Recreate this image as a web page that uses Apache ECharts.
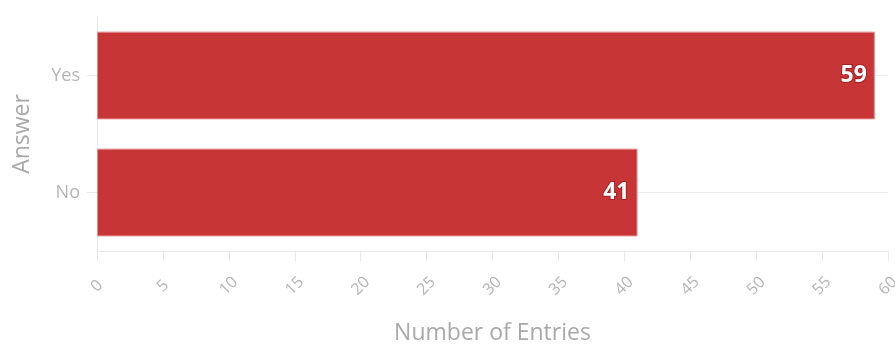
<!DOCTYPE html>
<html>
<head>
<meta charset="utf-8">
<script src="https://cdn.jsdelivr.net/npm/echarts@6/dist/echarts.min.js"></script>
<style>
  html, body { margin: 0; padding: 0; background: #fff; }
  #chart { width: 895px; height: 347px; }
</style>
</head>
<body>
<div id="chart"></div>
<script>
// Survey answers and their counts
const answers = ['No', 'Yes'];
const entries = [41, 59];

const chart = echarts.init(document.getElementById('chart'));
const fontFamily = '"Open Sans", "Noto Sans", sans-serif';

chart.setOption({
  animation: false,
  textStyle: { fontFamily: fontFamily },
  grid: { left: 97, right: 7, top: 17, bottom: 96, containLabel: false, outerBoundsMode: 'none' },
  xAxis: {
    type: 'value',
    min: 0,
    max: 60,
    interval: 5,
    name: 'Number of Entries',
    nameLocation: 'middle',
    nameGap: 71,
    nameMoveOverlap: false,
    nameTextStyle: { color: '#a9a9a9', fontSize: 23, fontFamily: fontFamily },
    axisLine: { show: true, lineStyle: { color: '#e8e8e8', width: 1 } },
    axisTick: { show: true, length: 10, lineStyle: { color: '#e8e8e8' } },
    axisLabel: {
      rotate: 45,
      align: 'center',
      verticalAlign: 'middle',
      color: '#b5b5b5',
      fontSize: 16,
      margin: 35,
      fontFamily: fontFamily
    },
    splitLine: { show: false }
  },
  yAxis: {
    type: 'category',
    data: answers,
    name: 'Answer',
    nameLocation: 'middle',
    nameGap: 63,
    nameMoveOverlap: false,
    nameRotate: 90,
    nameTextStyle: { color: '#a9a9a9', fontSize: 23, fontFamily: fontFamily },
    axisLine: { show: true, lineStyle: { color: '#e8e8e8', width: 1 } },
    axisTick: { show: true, alignWithLabel: true, length: 10, lineStyle: { color: '#e8e8e8' } },
    axisLabel: { color: '#b5b5b5', fontSize: 18, margin: 17, fontFamily: fontFamily },
    splitLine: { show: true, alignWithLabel: true, lineStyle: { color: '#ececec', width: 1 } }
  },
  series: [{
    type: 'bar',
    data: entries,
    barCategoryGap: '25%',
    itemStyle: {
      color: '#c73536',
      borderColor: '#e38a8a',
      borderWidth: 1
    },
    label: {
      show: true,
      position: 'insideRight',
      distance: 8,
      color: '#ffffff',
      fontSize: 23,
      fontWeight: 'bold',
      fontFamily: fontFamily,
      textBorderColor: '#a51f22',
      textBorderWidth: 2
    }
  }]
});
</script>
</body>
</html>
